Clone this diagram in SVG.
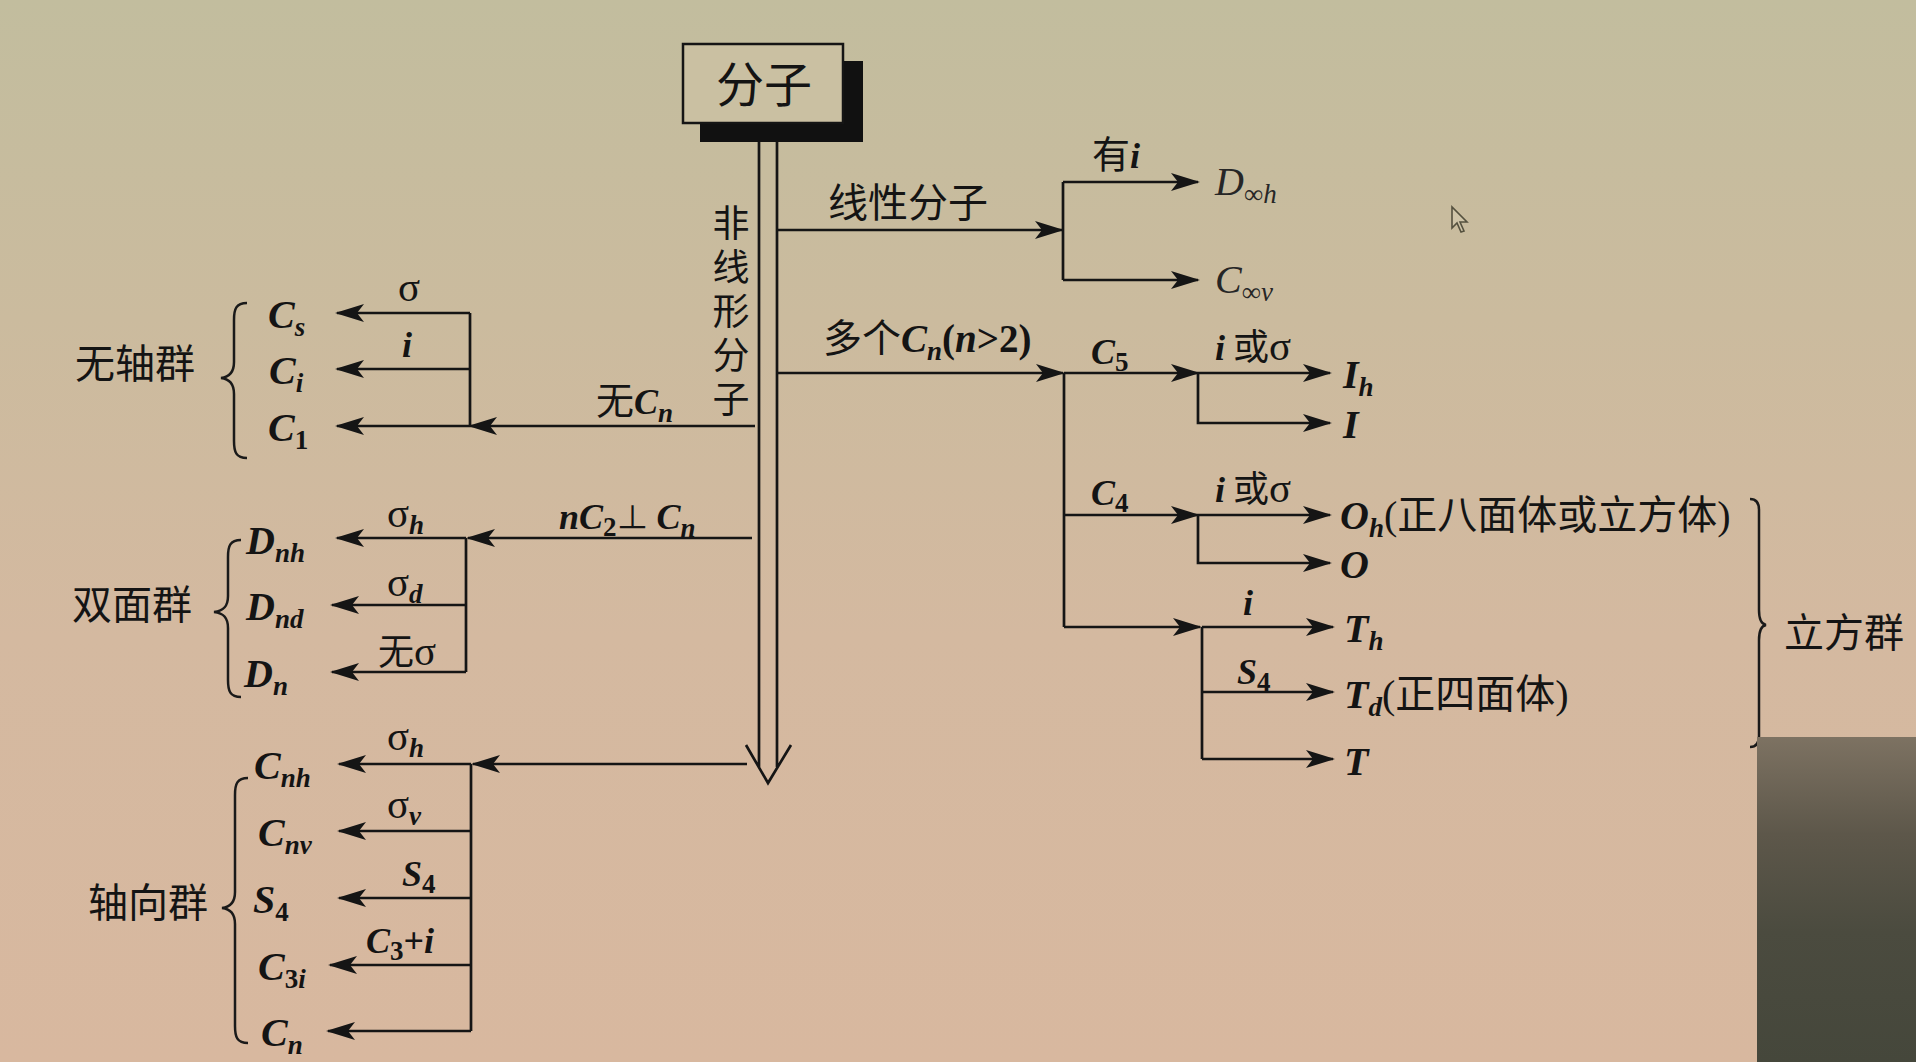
<svg xmlns="http://www.w3.org/2000/svg" width="1916" height="1062" viewBox="0 0 1916 1062">
<defs>
<linearGradient id="bg" x1="0" y1="0" x2="0" y2="1">
<stop offset="0" stop-color="#c2bd9e"/>
<stop offset="0.3" stop-color="#cbbb9e"/>
<stop offset="0.6" stop-color="#d4b9a0"/>
<stop offset="1" stop-color="#d8b89f"/>
</linearGradient>
<linearGradient id="dark" x1="0" y1="0" x2="0" y2="1">
<stop offset="0" stop-color="#7d7262"/>
<stop offset="0.3" stop-color="#5d574a"/>
<stop offset="0.6" stop-color="#4b4b3f"/>
<stop offset="1" stop-color="#45473b"/>
</linearGradient>
<marker id="ah" markerUnits="userSpaceOnUse" markerWidth="34" markerHeight="22" viewBox="-30 -11 34 22" refX="0" refY="0" orient="auto">
<path d="M2,0 L-27,-9 L-20,0 L-27,9 Z" fill="#151515"/>
</marker>
<style>
text { font-family: "Liberation Serif", "Noto Sans CJK SC", serif; fill: #141414; }
.n { font-size: 40px; font-weight: bold; font-style: italic; }
.e { font-size: 36px; font-weight: bold; font-style: italic; }
.s { font-size: 27px; }
.u { font-style: normal; }
.r { font-style: normal; font-weight: normal; }
.sg { font-style: normal; font-weight: normal; font-size: 41px; }
.c { font-family: "Noto Sans CJK SC", sans-serif; font-style: normal; font-weight: normal; }
.g { font-family: "Noto Sans CJK SC", sans-serif; font-size: 40px; }
.thin { font-weight: normal; fill: #262626; }
.ln { fill: none; stroke: #151515; stroke-width: 2.7; }
.br { fill: none; stroke: #1a1a1a; stroke-width: 2.5; }
</style>
</defs>
<rect x="0" y="0" width="1916" height="1062" fill="url(#bg)"/>

<g id="root">
<rect x="700" y="61" width="163" height="81" fill="#111"/>
<rect x="683" y="44" width="160" height="79" fill="#cac0a2" stroke="#151515" stroke-width="2.5"/>
<text class="g" x="764" y="102" text-anchor="middle" style="font-size:48px">分子</text>
</g>

<g id="connectors">
<path class="ln" d="M759,142 V767 M777,142 V767 M746,745 L768,783 L791,745"/>
<path class="ln" d="M755,426 H470" marker-end="url(#ah)"/>
<path class="ln" d="M470,313 V426"/>
<path class="ln" d="M470,313 H337" marker-end="url(#ah)"/>
<path class="ln" d="M470,369 H337" marker-end="url(#ah)"/>
<path class="ln" d="M470,426 H337" marker-end="url(#ah)"/>
<path class="ln" d="M752,538 H468" marker-end="url(#ah)"/>
<path class="ln" d="M466,538 V672"/>
<path class="ln" d="M466,538 H337" marker-end="url(#ah)"/>
<path class="ln" d="M466,605 H332" marker-end="url(#ah)"/>
<path class="ln" d="M466,672 H332" marker-end="url(#ah)"/>
<path class="ln" d="M747,764 H473" marker-end="url(#ah)"/>
<path class="ln" d="M471,764 V1031"/>
<path class="ln" d="M471,764 H339" marker-end="url(#ah)"/>
<path class="ln" d="M471,831 H339" marker-end="url(#ah)"/>
<path class="ln" d="M471,898 H339" marker-end="url(#ah)"/>
<path class="ln" d="M471,965 H330" marker-end="url(#ah)"/>
<path class="ln" d="M471,1031 H328" marker-end="url(#ah)"/>
<path class="ln" d="M777,230 H1062" marker-end="url(#ah)"/>
<path class="ln" d="M1063,182 V280"/>
<path class="ln" d="M1063,182 H1198" marker-end="url(#ah)"/>
<path class="ln" d="M1063,280 H1198" marker-end="url(#ah)"/>
<path class="ln" d="M777,373 H1063" marker-end="url(#ah)"/>
<path class="ln" d="M1064,373 V627"/>
<path class="ln" d="M1064,373 H1198" marker-end="url(#ah)"/>
<path class="ln" d="M1198,373 H1330" marker-end="url(#ah)"/>
<path class="ln" d="M1198,373 V423 H1330" marker-end="url(#ah)"/>
<path class="ln" d="M1064,515 H1198" marker-end="url(#ah)"/>
<path class="ln" d="M1198,515 H1330" marker-end="url(#ah)"/>
<path class="ln" d="M1198,515 V563 H1330" marker-end="url(#ah)"/>
<path class="ln" d="M1064,627 H1200" marker-end="url(#ah)"/>
<path class="ln" d="M1202,627 H1333" marker-end="url(#ah)"/>
<path class="ln" d="M1202,627 V759"/>
<path class="ln" d="M1202,692 H1333" marker-end="url(#ah)"/>
<path class="ln" d="M1202,759 H1333" marker-end="url(#ah)"/>
</g>

<g id="edge-labels">
<text class="g" x="731" y="204" style="font-size:37px; writing-mode:vertical-rl; letter-spacing:7px">非线形分子</text>
<text class="g" x="828" y="217">线性分子</text>
<text class="e" x="1092" y="168"><tspan class="c" style="font-size:38px">有</tspan>i</text>
<text class="e" x="823" y="352" style="font-size:39px"><tspan class="c" style="font-size:39px">多个</tspan>C<tspan class="s" dy="8">n</tspan><tspan dy="-8" class="u">(</tspan>n<tspan class="u">&gt;2)</tspan></text>
<text class="e" x="1091" y="364">C<tspan class="s u" dy="7">5</tspan></text>
<text class="e" x="1215" y="360">i<tspan class="c" dx="8" style="font-size:36px">或</tspan><tspan class="sg">σ</tspan></text>
<text class="e" x="1091" y="505">C<tspan class="s u" dy="7">4</tspan></text>
<text class="e" x="1215" y="502">i<tspan class="c" dx="8" style="font-size:36px">或</tspan><tspan class="sg">σ</tspan></text>
<text class="e" x="1243" y="615">i</text>
<text class="e" x="1237" y="684">S<tspan class="s u" dy="7">4</tspan></text>
<text class="e sg" x="398" y="301">σ</text>
<text class="e" x="402" y="357">i</text>
<text class="e" x="596" y="414"><tspan class="c" style="font-size:38px">无</tspan>C<tspan class="s" dy="8">n</tspan></text>
<text class="e" x="559" y="529">n<tspan>C</tspan><tspan class="s u" dy="7">2</tspan><tspan class="r" dy="-7" style="font-size:32px">⊥ </tspan>C<tspan class="s" dy="8">n</tspan></text>
<text class="e" x="387" y="527"><tspan class="sg">σ</tspan><tspan class="s" dy="7">h</tspan></text>
<text class="e" x="387" y="596"><tspan class="sg">σ</tspan><tspan class="s" dy="7">d</tspan></text>
<text class="e" x="378" y="665"><tspan class="c" style="font-size:36px">无</tspan><tspan class="sg">σ</tspan></text>
<text class="e" x="387" y="750"><tspan class="sg">σ</tspan><tspan class="s" dy="7">h</tspan></text>
<text class="e" x="387" y="818"><tspan class="sg">σ</tspan><tspan class="s" dy="7">v</tspan></text>
<text class="e" x="402" y="886">S<tspan class="s u" dy="7">4</tspan></text>
<text class="e" x="366" y="953">C<tspan class="s u" dy="7">3</tspan><tspan class="u" dy="-7">+</tspan>i</text>
</g>

<g id="group-noaxis">
<text class="g" x="75" y="378">无轴群</text>
<path class="br" d="M247,303 C236,303 234,309 234,320 V362 C234,372 230,377 221,378 C230,379 234,384 234,394 V441 C234,452 236,458 247,458"/>
</g>
<g id="n-Cs"><text class="n" x="268" y="328">C<tspan class="s" dy="8">s</tspan></text></g>
<g id="n-Ci"><text class="n" x="269" y="384">C<tspan class="s" dy="8">i</tspan></text></g>
<g id="n-C1"><text class="n" x="268" y="441">C<tspan class="s u" dy="8">1</tspan></text></g>

<g id="group-dihedral">
<text class="g" x="72" y="619">双面群</text>
<path class="br" d="M241,540 C230,540 228,546 228,557 V596 C228,606 224,611 214,612 C224,613 228,618 228,628 V680 C228,691 230,697 241,697"/>
</g>
<g id="n-Dnh"><text class="n" x="246" y="554">D<tspan class="s" dy="8">nh</tspan></text></g>
<g id="n-Dnd"><text class="n" x="246" y="620">D<tspan class="s" dy="8">nd</tspan></text></g>
<g id="n-Dn"><text class="n" x="244" y="687">D<tspan class="s" dy="8">n</tspan></text></g>

<g id="group-axial">
<text class="g" x="88" y="917">轴向群</text>
<path class="br" d="M248,778 C237,778 235,784 235,795 V892 C235,902 231,907 222,908 C231,909 235,914 235,924 V1026 C235,1037 237,1043 248,1043"/>
</g>
<g id="n-Cnh"><text class="n" x="254" y="779">C<tspan class="s" dy="8">nh</tspan></text></g>
<g id="n-Cnv"><text class="n" x="258" y="846">C<tspan class="s" dy="8">nv</tspan></text></g>
<g id="n-S4"><text class="n" x="253" y="913">S<tspan class="s u" dy="8">4</tspan></text></g>
<g id="n-C3i"><text class="n" x="258" y="980">C<tspan class="s u" dy="8">3</tspan><tspan class="s">i</tspan></text></g>
<g id="n-Cn"><text class="n" x="261" y="1046">C<tspan class="s" dy="8">n</tspan></text></g>

<g id="n-Dinfh"><text class="n thin" x="1215" y="195">D<tspan class="s" dy="8"><tspan class="u">∞</tspan>h</tspan></text></g>
<g id="n-Cinfv"><text class="n thin" x="1215" y="293">C<tspan class="s" dy="8"><tspan class="u">∞</tspan>v</tspan></text></g>
<g id="n-Ih"><text class="n" x="1343" y="388">I<tspan class="s" dy="8">h</tspan></text></g>
<g id="n-I"><text class="n" x="1343" y="438">I</text></g>
<g id="n-Oh"><text class="n" x="1340" y="529">O<tspan class="s" dy="8">h</tspan><tspan dy="-8" class="r">(</tspan><tspan class="c">正八面体或立方体</tspan><tspan class="r">)</tspan></text></g>
<g id="n-O"><text class="n" x="1340" y="578">O</text></g>
<g id="n-Th"><text class="n" x="1344" y="642">T<tspan class="s" dy="8">h</tspan></text></g>
<g id="n-Td"><text class="n" x="1344" y="708">T<tspan class="s" dy="8">d</tspan><tspan dy="-8" class="r">(</tspan><tspan class="c">正四面体</tspan><tspan class="r">)</tspan></text></g>
<g id="n-T"><text class="n" x="1344" y="775">T</text></g>

<g id="group-cubic">
<path class="br" d="M1750,499 C1756,499 1759,502 1759,510 V610 C1759,619 1761,624 1766,625 C1761,626 1759,631 1759,640 V736 C1759,744 1756,747 1750,747"/>
<text class="g" x="1784" y="647">立方群</text>
</g>

<rect x="1757" y="737" width="159" height="325" fill="url(#dark)"/>
<path d="M1452,207 L1452,228 L1457,223 L1461,232 L1464,231 L1460,222 L1467,222 Z" fill="#cfc4a8" stroke="#55513f" stroke-width="1.6"/>
</svg>
